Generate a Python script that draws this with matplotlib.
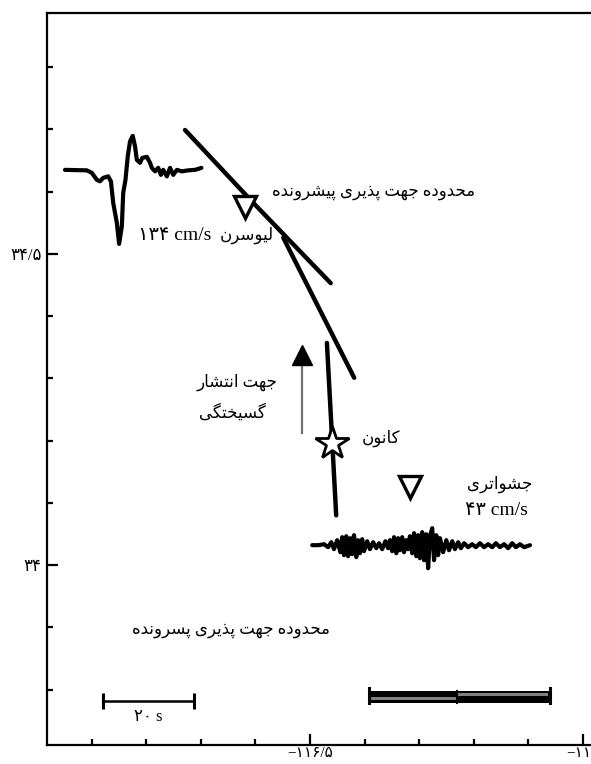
import matplotlib
matplotlib.use('Agg')
import matplotlib.pyplot as plt
from matplotlib.ticker import FixedLocator, FuncFormatter

plt.rcParams['font.family'] = ['Liberation Serif', 'DejaVu Sans']

# ---------------- data ----------------
x_major = [-116.5, -116.0]
x_minor = [-116.9, -116.8, -116.7, -116.6, -116.4, -116.3, -116.2, -116.1]
y_major = [34.0, 34.5]
y_minor = [33.8, 33.9, 34.1, 34.2, 34.3, 34.4, 34.6, 34.7, 34.8]

fault_north_lon = [-116.729, -116.604, -116.462]
fault_north_lat = [34.699, 34.582, 34.453]
fault_mid_lon = [-116.549, -116.419]
fault_mid_lat = [34.526, 34.301]
fault_south_lon = [-116.469, -116.452]
fault_south_lat = [34.357, 34.080]

station_names = ['لیوسرن', 'جشواتری']
station_lon = [-116.619, -116.317]
station_lat = [34.576, 34.125]
station_pgv = ['۱۳۴ cm/s', '۴۳ cm/s']

epicenter_name = 'کانون'
epicenter_lon = [-116.460]
epicenter_lat = [34.196]

rupture_label = ['جهت انتشار', 'گسیختگی']
rupture_arrow_lon = [-116.515, -116.515]
rupture_arrow_lat = [34.212, 34.338]

forward_label = 'محدوده جهت پذیری پیشرونده'
backward_label = 'محدوده جهت پذیری پسرونده'

# Lucerne velocity record (time s, velocity cm/s)
lucerne_t = [0, 4.8, 5.9, 7.0, 7.7, 8.4, 9.5, 10.1, 10.6, 11.4,
             11.9, 12.5, 12.8, 13.3, 13.8, 14.3, 14.9, 15.4, 15.8, 16.5,
             17.0, 18.0, 18.7, 19.1, 19.8, 20.5, 21.1, 21.6, 22.4, 23.1,
             23.8, 24.6, 25.7, 27.1, 28.6, 30.0]
lucerne_v = [0, -0.9, -5.4, -18.1, -20.8, -14.5, -11.8, -20.8, -59.8, -96.0,
             -134.1, -102.4, -41.7, -18.1, 24.5, 51.6, 61.6, 42.6, 18.1, 12.7,
             21.7, 23.6, 12.7, 3.6, -2.7, 3.6, -9.1, 0, -11.8, 3.6,
             -9.1, 0, -2.7, -0.9, 0, 3.6]

# Joshua Tree velocity record (time s, velocity cm/s)
joshua_t = [0, 1.3, 2.6, 3.5, 4.2, 4.8, 5.5, 6.2, 6.6, 7.0,
            7.5, 7.9, 8.4, 8.8, 9.2, 9.7, 10.1, 10.5, 11.0, 11.4,
            12.1, 12.7, 13.4, 14.1, 14.7, 15.4, 16.1, 16.7, 17.1, 17.6,
            18.0, 18.5, 18.9, 19.3, 19.8, 20.2, 20.7, 21.1, 21.5, 22.0,
            22.4, 22.9, 23.3, 23.7, 24.2, 24.6, 25.1, 25.5, 25.9, 26.4,
            26.8, 27.3, 27.7, 28.1, 28.8, 29.5, 30.1, 30.8, 31.4, 32.1,
            32.7, 33.4, 34.3, 35.2, 36.0, 36.9, 37.8, 38.7, 39.6, 40.4,
            41.3, 42.2, 43.1, 44.0, 44.8, 45.7, 46.6, 47.9]
joshua_v = [0, 0, 1.8, -3.6, 5.4, -7.2, 9.1, -12.7, 14.5, -18.1,
            16.3, -19.9, 12.7, -16.3, 18.1, -21.7, 9.1, -14.5, 10.9, -10.9,
            7.2, -7.2, 5.4, -5.4, 3.6, -7.2, 7.2, -5.4, 9.1, -10.9,
            14.5, -14.5, 12.7, -9.1, 14.5, -12.7, 9.1, -7.2, 16.3, -14.5,
            21.7, -19.9, 18.1, -23.6, 23.6, -27.2, 19.9, -41.7, 16.3, 30.8,
            -27.2, 18.1, -18.1, 12.7, -12.7, 9.1, -9.1, 7.2, -7.2, 5.4,
            -5.4, 3.6, -3.6, 1.8, -3.6, 3.6, -3.6, 1.8, -3.6, 3.6,
            -3.6, 1.8, -5.4, 3.6, -3.6, 1.8, -3.6, 0]

time_bar_seconds = 20
time_bar_label = '۲۰ s'
distance_bar_edges = [-116.392, -116.231, -116.060]

# ---------------- layout constants ----------------
DEG_PER_SEC = 0.008333
DEG_PER_CMS = 0.000887
lucerne_origin = (-116.949, 34.635)
joshua_origin = (-116.496, 34.032)
time_bar_origin = (-116.879, 33.781)


# ---------------- Persian shaping ----------------
FORMS = {
    'ا': ('\uFE8D', '\uFE8E', None, None),
    'آ': ('\uFE81', '\uFE82', None, None),
    'ب': ('\uFE8F', '\uFE90', '\uFE91', '\uFE92'),
    'پ': ('\uFB56', '\uFB57', '\uFB58', '\uFB59'),
    'ت': ('\uFE95', '\uFE96', '\uFE97', '\uFE98'),
    'ث': ('\uFE99', '\uFE9A', '\uFE9B', '\uFE9C'),
    'ج': ('\uFE9D', '\uFE9E', '\uFE9F', '\uFEA0'),
    'چ': ('\uFB7A', '\uFB7B', '\uFB7C', '\uFB7D'),
    'ح': ('\uFEA1', '\uFEA2', '\uFEA3', '\uFEA4'),
    'خ': ('\uFEA5', '\uFEA6', '\uFEA7', '\uFEA8'),
    'د': ('\uFEA9', '\uFEAA', None, None),
    'ذ': ('\uFEAB', '\uFEAC', None, None),
    'ر': ('\uFEAD', '\uFEAE', None, None),
    'ز': ('\uFEAF', '\uFEB0', None, None),
    'ژ': ('\uFB8A', '\uFB8B', None, None),
    'س': ('\uFEB1', '\uFEB2', '\uFEB3', '\uFEB4'),
    'ش': ('\uFEB5', '\uFEB6', '\uFEB7', '\uFEB8'),
    'ص': ('\uFEB9', '\uFEBA', '\uFEBB', '\uFEBC'),
    'ض': ('\uFEBD', '\uFEBE', '\uFEBF', '\uFEC0'),
    'ط': ('\uFEC1', '\uFEC2', '\uFEC3', '\uFEC4'),
    'ظ': ('\uFEC5', '\uFEC6', '\uFEC7', '\uFEC8'),
    'ع': ('\uFEC9', '\uFECA', '\uFECB', '\uFECC'),
    'غ': ('\uFECD', '\uFECE', '\uFECF', '\uFED0'),
    'ف': ('\uFED1', '\uFED2', '\uFED3', '\uFED4'),
    'ق': ('\uFED5', '\uFED6', '\uFED7', '\uFED8'),
    'ک': ('\uFB8E', '\uFB8F', '\uFB90', '\uFB91'),
    'گ': ('\uFB92', '\uFB93', '\uFB94', '\uFB95'),
    'ل': ('\uFEDD', '\uFEDE', '\uFEDF', '\uFEE0'),
    'م': ('\uFEE1', '\uFEE2', '\uFEE3', '\uFEE4'),
    'ن': ('\uFEE5', '\uFEE6', '\uFEE7', '\uFEE8'),
    'ه': ('\uFEE9', '\uFEEA', '\uFEEB', '\uFEEC'),
    'و': ('\uFEED', '\uFEEE', None, None),
    'ی': ('\uFBFC', '\uFBFD', '\uFBFE', '\uFBFF'),
}


def fa(s):
    out = []
    for i, c in enumerate(s):
        if c not in FORMS:
            out.append(c)
            continue
        prev = s[i - 1] if i > 0 else ''
        nxt = s[i + 1] if i + 1 < len(s) else ''
        jp = prev in FORMS and FORMS[prev][2] is not None
        jn = FORMS[c][2] is not None and nxt in FORMS
        iso, fin, ini, med = FORMS[c]
        if jp and jn:
            out.append(med)
        elif jp:
            out.append(fin)
        elif jn:
            out.append(ini)
        else:
            out.append(iso)
    return ''.join(out)[::-1]


FA_DIGITS = str.maketrans('0123456789.-', '۰۱۲۳۴۵۶۷۸۹/−')


def fa_num(v, pos=None):
    return f'{v:g}'.translate(FA_DIGITS)


# ---------------- figure ----------------
fig = plt.figure(figsize=(5.91, 7.64), dpi=100)
ax = fig.add_axes([47 / 591, 19 / 764, 544 / 591, 732 / 764])
ax.set_xlim(-116.982, -115.985)
ax.set_ylim(33.711, 34.887)

for side in ['left', 'top', 'bottom']:
    ax.spines[side].set_linewidth(1.6)
ax.spines['right'].set_visible(False)

ax.xaxis.set_major_locator(FixedLocator(x_major))
ax.xaxis.set_minor_locator(FixedLocator(x_minor))
ax.yaxis.set_major_locator(FixedLocator(y_major))
ax.yaxis.set_minor_locator(FixedLocator(y_minor))
ax.xaxis.set_major_formatter(FuncFormatter(fa_num))
ax.yaxis.set_major_formatter(FuncFormatter(fa_num))
ax.tick_params(which='both', direction='in', width=1.6, top=False, right=False)
ax.tick_params(which='major', length=8)
ax.tick_params(which='minor', length=4.5)
ax.tick_params(axis='y', which='major', labelsize=12, pad=4)
ax.tick_params(axis='x', which='major', labelsize=11, pad=1.5)

# fault traces
for lo, la in [(fault_north_lon, fault_north_lat),
               (fault_mid_lon, fault_mid_lat),
               (fault_south_lon, fault_south_lat)]:
    ax.plot(lo, la, color='black', lw=3.2, solid_capstyle='round', zorder=3)

# seismograms
for (lo0, la0), tt, vv in [(lucerne_origin, lucerne_t, lucerne_v),
                           (joshua_origin, joshua_t, joshua_v)]:
    ax.plot([lo0 + t * DEG_PER_SEC for t in tt],
            [la0 + v * DEG_PER_CMS for v in vv],
            color='black', lw=3.0, solid_joinstyle='round',
            solid_capstyle='round', zorder=3)

# stations
ax.plot(station_lon, station_lat, 'v', ms=16, mfc='white', mec='black',
        mew=2.4, ls='none', zorder=5)

# epicenter
ax.plot(epicenter_lon, epicenter_lat, '*', ms=25, mfc='white', mec='black',
        mew=2.0, ls='none', zorder=6)

# rupture direction arrow
ax.plot(rupture_arrow_lon, rupture_arrow_lat, color='#707070', lw=1.6, zorder=3)
ax.plot(rupture_arrow_lon[-1:], rupture_arrow_lat[-1:], '^', ms=14,
        color='black', zorder=4)

# time scale bar
tb_x = [time_bar_origin[0], time_bar_origin[0] + time_bar_seconds * DEG_PER_SEC]
ax.plot(tb_x, [time_bar_origin[1]] * 2, color='black', lw=1.8,
        marker='|', ms=11, mew=2.2)
ax.text(sum(tb_x) / 2, 33.756, time_bar_label, ha='center', va='center',
        fontsize=12)

# distance scale bar
d0, d1, d2 = distance_bar_edges
ax.bar([d0, d1], [0.019, 0.019], width=[d1 - d0, d2 - d1], bottom=33.778,
       align='edge', color='black', zorder=3)
ax.bar([d0 + 0.004, d1 + 0.002], [0.005, 0.005],
       width=[d1 - d0 - 0.006, d2 - d1 - 0.006],
       bottom=[33.7825, 33.789], align='edge', color='#808080', zorder=4)
ax.plot([d0, d0], [33.778, 33.802], color='black', lw=2.2, zorder=5)
ax.plot([d2, d2], [33.778, 33.802], color='black', lw=2.2, zorder=5)
ax.plot([d1, d1], [33.778, 33.797], color='black', lw=1.5, zorder=5)

# texts
PFS = 12
ax.text(-116.570, 34.600, fa(forward_label), ha='left', va='center', fontsize=PFS)
ax.text(-116.826, 33.895, fa(backward_label), ha='left', va='center', fontsize=PFS)
ax.text(-116.815, 34.530, station_pgv[0], ha='left', va='center', fontsize=14)
ax.text(-116.665, 34.530, fa(station_names[0]), ha='left', va='center', fontsize=PFS)
ax.text(-116.092, 34.129, fa(station_names[1]), ha='right', va='center', fontsize=PFS)
ax.text(-116.101, 34.088, station_pgv[1], ha='right', va='center', fontsize=14)
ax.text(-116.405, 34.204, fa(epicenter_name), ha='left', va='center', fontsize=PFS)
ax.text(-116.559, 34.293, fa(rupture_label[0]), ha='right', va='center', fontsize=PFS)
ax.text(-116.582, 34.244, fa(rupture_label[1]), ha='right', va='center', fontsize=PFS)

fig.savefig('out.png', dpi=100)
